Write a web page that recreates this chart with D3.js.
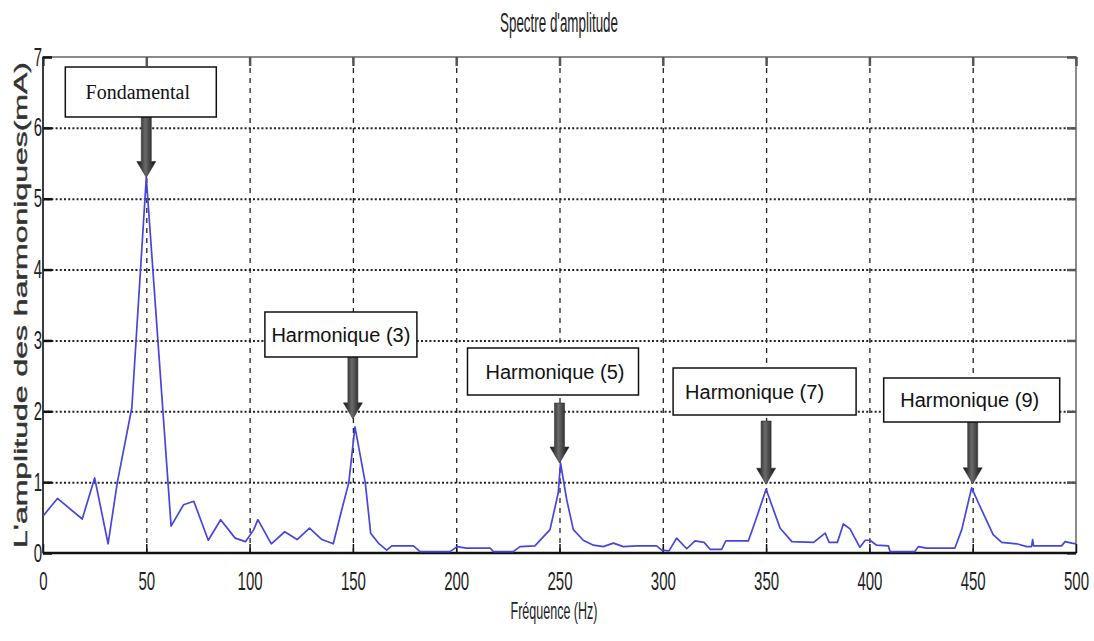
<!DOCTYPE html>
<html>
<head>
<meta charset="utf-8">
<script src="https://cdn.jsdelivr.net/npm/d3@7"></script>
<style>
  body { margin: 0; background: #fff; }
  svg { display: block; }
</style>
</head>
<body>
<svg></svg>
<script>
// spectre mesure (Hz, mA)
const freqs = [0, 7, 19, 25, 31.5, 36, 43, 50, 62, 68, 73, 80, 86, 93, 98, 102, 104, 110.5,
  117, 123, 129, 135, 140.5, 144.6, 148, 151, 156, 158.6, 162.3, 166.4, 168.8, 179.3, 182.5,
  197, 200.5, 202.6, 205, 216.4, 218, 227.6, 230.9, 238.1, 245.4, 249.4, 250.5, 253.5, 256.7,
  261.5, 266.4, 271.2, 276.1, 280.9, 287.4, 297, 299.5, 303, 306.7, 311.6, 315.6, 320, 323,
  328.5, 330.5, 341.4, 345.4, 350, 352.7, 356.8, 362.5, 373, 378.6, 380.5, 384.5, 387.4,
  390.6, 395.4, 398, 400.3, 403.5, 409.2, 410, 422, 423.7, 427.7, 441.4, 444.7, 449.5, 453.5,
  459.9, 464, 471.3, 476.1, 478.5, 479, 479.5, 493, 494.7, 498, 500]
const amps = [0.52, 0.77, 0.48, 1.06, 0.13, 1.0, 2.05, 5.3, 0.38, 0.68, 0.73, 0.18, 0.47, 0.21,
  0.16, 0.33, 0.47, 0.13, 0.30, 0.19, 0.35, 0.19, 0.13, 0.61, 0.99, 1.78, 0.99, 0.28, 0.14,
  0.04, 0.10, 0.10, 0.02, 0.02, 0.09, 0.08, 0.07, 0.07, 0.02, 0.02, 0.09, 0.10, 0.33, 0.85,
  1.27, 0.75, 0.33, 0.18, 0.11, 0.09, 0.14, 0.09, 0.10, 0.10, 0.04, 0.03, 0.21, 0.06, 0.17,
  0.15, 0.05, 0.05, 0.17, 0.17, 0.50, 0.90, 0.68, 0.35, 0.16, 0.15, 0.28, 0.15, 0.15, 0.41,
  0.34, 0.08, 0.18, 0.18, 0.11, 0.10, 0.02, 0.02, 0.09, 0.07, 0.07, 0.33, 0.92, 0.66, 0.26,
  0.15, 0.13, 0.09, 0.09, 0.19, 0.10, 0.10, 0.16, 0.14, 0.13]

const xTicks = [0, 50, 100, 150, 200, 250, 300, 350, 400, 450, 500]
const yTicks = [0, 1, 2, 3, 4, 5, 6, 7]

const annoLabels = ["Fondamental", "Harmonique (3)", "Harmonique (5)", "Harmonique (7)", "Harmonique (9)"]
const annoFreqs = [50, 150, 250, 350, 450]

// box placement in px, relative to the arrow
const annoLayout = [
  { dx: -81, top: 67, w: 151, h: 50, tdx: -3, gap: 0, tip: 0, serif: true },
  { dx: -88, top: 312, w: 152, h: 45, tdx: 0, gap: 0, tip: -8, serif: false },
  { dx: -92, top: 348, w: 171, h: 47, tdx: 2, gap: 8, tip: 0, serif: false },
  { dx: -93, top: 368, w: 183, h: 47, tdx: -10, gap: 6, tip: -5, serif: false },
  { dx: -89, top: 378, w: 176, h: 44, tdx: -2, gap: 0, tip: -4, serif: false }
]

const width = 1094
const height = 641
const mLeft = 43, mRight = 1076, mTop = 57, mBottom = 553

const svg = d3.select('svg')
  .attr('width', width)
  .attr('height', height)

const x = d3.scaleLinear().domain([0, 500]).range([mLeft, mRight])
const y = d3.scaleLinear().domain([0, 7]).range([mBottom, mTop])

const defs = svg.append('defs')
const grad = defs.append('linearGradient').attr('id', 'arrowGrad')
grad.append('stop').attr('offset', '0%').attr('stop-color', '#0d0d0d')
grad.append('stop').attr('offset', '45%').attr('stop-color', '#6a6a6a')
grad.append('stop').attr('offset', '100%').attr('stop-color', '#0d0d0d')

// grid
svg.append('g')
  .attr('transform', `translate(0,${mBottom})`)
  .call(d3.axisBottom(x).tickValues(xTicks.slice(1, -1)).tickSize(-(mBottom - mTop)).tickFormat(''))
  .call(g => g.select('.domain').remove())
  .selectAll('line')
    .attr('stroke', '#222')
    .attr('stroke-width', 1.3)
    .attr('stroke-dasharray', '5,5')

svg.append('g')
  .attr('transform', `translate(${mLeft},0)`)
  .call(d3.axisLeft(y).tickValues(yTicks.slice(1, -1)).tickSize(-(mRight - mLeft)).tickFormat(''))
  .call(g => g.select('.domain').remove())
  .selectAll('line')
    .attr('stroke', '#222')
    .attr('stroke-width', 2)
    .attr('stroke-dasharray', '2,2.2')

// box
svg.append('rect')
  .attr('x', mLeft).attr('y', mTop)
  .attr('width', mRight - mLeft).attr('height', mBottom - mTop)
  .attr('fill', 'none')
  .attr('stroke', '#666')
  .attr('stroke-width', 1.5)

// inner ticks (matlab style)
const tickLen = 9
const innerAxes = [
  [d3.axisBottom(x).tickValues(xTicks), `translate(0,${mBottom})`],
  [d3.axisTop(x).tickValues(xTicks), `translate(0,${mTop})`],
  [d3.axisLeft(y).tickValues(yTicks), `translate(${mLeft},0)`],
  [d3.axisRight(y).tickValues(yTicks), `translate(${mRight},0)`]
]
innerAxes.forEach(([ax, tr], i) => {
  const g = svg.append('g')
    .attr('transform', tr)
    .call(ax.tickSize(-tickLen).tickFormat(''))
  g.select('.domain').remove()
  g.selectAll('line')
    .attr('stroke', i < 1 || i == 2 ? '#111' : '#555')
    .attr('stroke-width', i < 1 ? 1.5 : 2.5)
})

// bottom and left axis lines
svg.append('line')
  .attr('x1', mLeft).attr('x2', mRight).attr('y1', mBottom).attr('y2', mBottom)
  .attr('stroke', '#111').attr('stroke-width', 2.5)
svg.append('line')
  .attr('x1', mLeft).attr('x2', mLeft).attr('y1', mTop).attr('y2', mBottom)
  .attr('stroke', '#222').attr('stroke-width', 1.5)

// tick labels (narrow, like the stretched original)
const xLab = svg.append('g')
  .attr('transform', `translate(0,${mBottom})`)
  .call(d3.axisBottom(x).tickValues(xTicks).tickSize(0).tickFormat(d3.format('d')))
xLab.select('.domain').remove()
xLab.selectAll('text')
  .attr('y', 0)
  .attr('dy', 0)
  .attr('transform', 'translate(0,37) scale(0.6,1)')
  .attr('font-family', 'Liberation Sans, Arial, sans-serif')
  .attr('font-size', 25)
  .attr('fill', '#222')

const yLab = svg.append('g')
  .attr('transform', `translate(${mLeft},0)`)
  .call(d3.axisLeft(y).tickValues(yTicks).tickSize(0).tickFormat(d3.format('d')))
yLab.select('.domain').remove()
yLab.selectAll('text')
  .attr('x', 0)
  .attr('transform', 'translate(-1,0) scale(0.6,1)')
  .attr('font-family', 'Liberation Sans, Arial, sans-serif')
  .attr('font-size', 25)
  .attr('fill', '#222')

// data line
const line = d3.line()
  .x((d, i) => x(freqs[i]))
  .y(d => y(d))

svg.append('path')
  .datum(amps)
  .attr('d', line)
  .attr('fill', 'none')
  .attr('stroke', '#4646dc')
  .attr('stroke-width', 1.7)
  .attr('stroke-linejoin', 'round')

// annotations
annoLabels.forEach((label, i) => {
  const lay = annoLayout[i]
  const f = annoFreqs[i]
  let peak = 0
  freqs.forEach((fr, j) => { if (Math.abs(fr - f) <= 5 && amps[j] > peak) peak = amps[j] })
  const ax = x(f)
  const tipY = y(peak) + lay.tip
  const startY = lay.top + lay.h + lay.gap
  const headLen = 16, shaft = 5, head = 9.5

  svg.append('path')
    .attr('d', `M${ax - shaft},${startY} L${ax + shaft},${startY} L${ax + shaft},${tipY - headLen}
      L${ax + head},${tipY - headLen} L${ax},${tipY} L${ax - head},${tipY - headLen}
      L${ax - shaft},${tipY - headLen} Z`)
    .attr('fill', 'url(#arrowGrad)')
    .attr('stroke', '#333')
    .attr('stroke-width', 0.6)

  svg.append('rect')
    .attr('x', ax + lay.dx).attr('y', lay.top)
    .attr('width', lay.w).attr('height', lay.h)
    .attr('fill', '#fff')
    .attr('stroke', '#111')
    .attr('stroke-width', 1.5)

  svg.append('text')
    .attr('x', ax + lay.dx + lay.w / 2 + lay.tdx)
    .attr('y', lay.top + lay.h / 2 + 7)
    .attr('text-anchor', 'middle')
    .attr('font-family', lay.serif ? 'Liberation Serif, Times New Roman, serif' : 'Liberation Sans, Arial, sans-serif')
    .attr('font-size', 20)
    .attr('fill', '#111')
    .text(label)
})

// titles
svg.append('text')
  .attr('x', 559).attr('y', 32)
  .attr('text-anchor', 'middle')
  .attr('font-family', 'Liberation Sans, Arial, sans-serif')
  .attr('font-size', 27)
  .attr('fill', '#222')
  .attr('textLength', 118)
  .attr('lengthAdjust', 'spacingAndGlyphs')
  .text("Spectre d'amplitude")

svg.append('text')
  .attr('x', 554).attr('y', 619)
  .attr('text-anchor', 'middle')
  .attr('font-family', 'Liberation Sans, Arial, sans-serif')
  .attr('font-size', 24)
  .attr('fill', '#222')
  .attr('textLength', 87)
  .attr('lengthAdjust', 'spacingAndGlyphs')
  .text('Fréquence (Hz)')

svg.append('text')
  .attr('transform', 'translate(27,305) rotate(-90)')
  .attr('text-anchor', 'middle')
  .attr('font-family', 'Liberation Sans, Arial, sans-serif')
  .attr('font-size', 18)
  .attr('fill', '#333')
  .attr('stroke', '#333')
  .attr('stroke-width', 0.4)
  .attr('textLength', 486)
  .attr('lengthAdjust', 'spacingAndGlyphs')
  .text("L'amplitude des harmoniques(mA)")
</script>
</body>
</html>
